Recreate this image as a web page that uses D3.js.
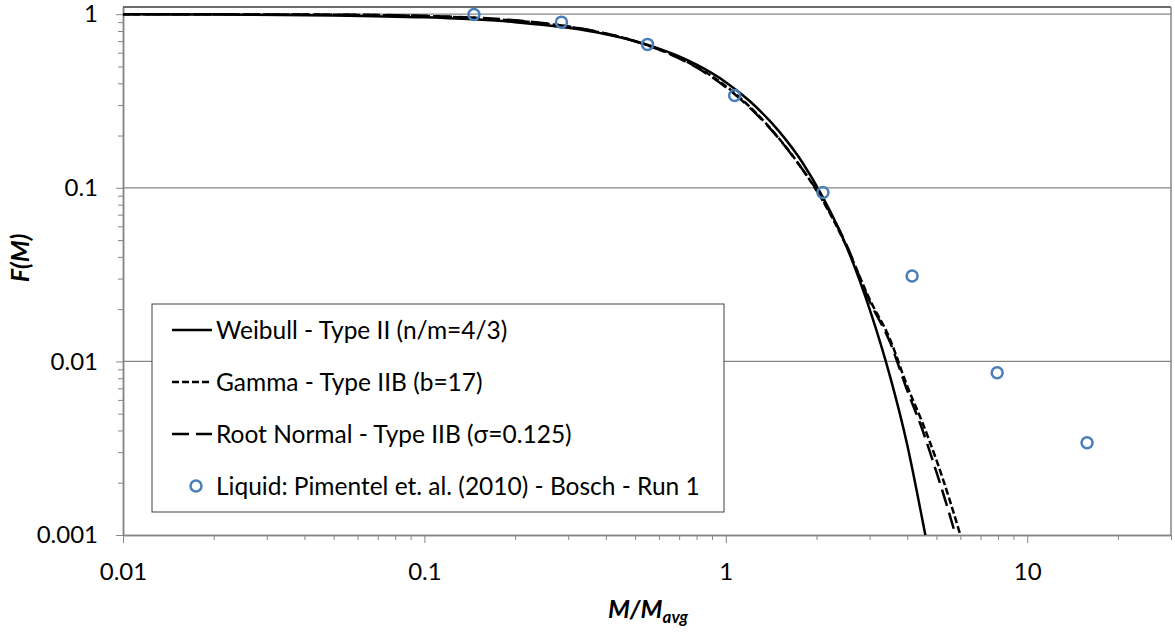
<!DOCTYPE html>
<html>
<head>
<meta charset="utf-8">
<script src="https://cdn.jsdelivr.net/npm/d3@7"></script>
<style>
  body { margin: 0; background: #fff; }
  text { font-family: Lato, "Open Sans", sans-serif; fill: #000; }
</style>
</head>
<body>
<div id="main"></div>
<script>
// values
const weibullM = [0.01, 0.02, 0.05, 0.1, 0.15, 0.2, 0.3, 0.4, 0.5, 0.6, 0.7, 0.8, 1.0, 1.2, 1.5, 1.8, 2.1, 2.5, 3.0, 3.5, 4.0, 4.5, 4.8];
const weibullF = [0.998, 0.995, 0.984, 0.959, 0.931, 0.900, 0.834, 0.766, 0.699, 0.633, 0.571, 0.512, 0.406, 0.316, 0.212, 0.139, 0.088, 0.047, 0.020, 0.0083, 0.0033, 0.0012, 0.00067];

const gammaM = [0.01, 0.02, 0.05, 0.1, 0.15, 0.2, 0.3, 0.4, 0.5, 0.6, 0.7, 0.8, 1.0, 1.2, 1.5, 1.8, 2.1, 2.5, 3.0, 3.5, 4.0, 4.5, 5.0, 5.5, 6.0, 6.3];
const gammaF = [0.999, 0.998, 0.993, 0.975, 0.950, 0.918, 0.848, 0.773, 0.700, 0.628, 0.560, 0.497, 0.385, 0.293, 0.193, 0.127, 0.084, 0.047, 0.0228, 0.0135, 0.0072, 0.0044, 0.0027, 0.00164, 0.0010, 0.00075];

const rootNormalM = [0.01, 0.02, 0.05, 0.1, 0.15, 0.2, 0.3, 0.4, 0.5, 0.6, 0.7, 0.8, 1.0, 1.2, 1.5, 1.8, 2.1, 2.5, 3.0, 3.5, 4.0, 4.5, 5.0, 5.5, 6.0];
const rootNormalF = [0.999, 0.998, 0.994, 0.978, 0.954, 0.922, 0.850, 0.774, 0.698, 0.625, 0.556, 0.493, 0.380, 0.290, 0.192, 0.127, 0.085, 0.048, 0.0222, 0.0130, 0.0068, 0.0040, 0.0023, 0.00135, 0.0008];

const liquidM = [0.146, 0.285, 0.55, 1.07, 2.1, 4.15, 7.95, 15.8];
const liquidF = [0.996, 0.90, 0.67, 0.34, 0.094, 0.031, 0.0086, 0.0034];

const xTicks = [0.01, 0.1, 1, 10];
const xTickLabels = ['0.01', '0.1', '1', '10'];
const yTicks = [0.001, 0.01, 0.1, 1];
const yTickLabels = ['0.001', '0.01', '0.1', '1'];

const legendLabels = [
    'Weibull - Type II (n/m=4/3)',
    'Gamma - Type IIB (b=17)',
    'Root Normal - Type IIB (\u03c3=0.125)',
    'Liquid: Pimentel et. al. (2010) - Bosch - Run 1'
];

const w = 1175, h = 634;
const plotLeft = 123, plotRight = 1171, plotTop = 7, plotBottom = 535;
const grey = '#868686';
const blue = '#4a7ebb';
const fontSize = 24;

const x = d3.scaleLog().domain([0.01, 30]).range([plotLeft, plotRight]);
const y = d3.scaleLog().domain([0.001, 1.1]).range([plotBottom, plotTop]);

const svg = d3.select('#main').append('svg')
    .attr('width', w)
    .attr('height', h);

svg.append('defs').append('clipPath').attr('id', 'plot')
    .append('rect')
    .attr('x', plotLeft).attr('y', plotTop)
    .attr('width', plotRight - plotLeft).attr('height', plotBottom - plotTop);

// horizontal gridlines
svg.append('g').selectAll('line')
    .data([0.01, 0.1, 1])
    .enter().append('line')
    .attr('x1', plotLeft).attr('x2', plotRight)
    .attr('y1', d => y(d)).attr('y2', d => y(d))
    .attr('stroke', grey).attr('stroke-width', 1.2);

// minor tick values (2..9 per decade)
const minorX = [], minorY = [];
[0.01, 0.1, 1, 10].forEach(dec => {
    for (let k = 2; k <= 9; k++) {
        const v = +(dec * k).toPrecision(3);
        if (v <= 30) minorX.push(v);
    }
});
[0.001, 0.01, 0.1].forEach(dec => {
    for (let k = 2; k <= 9; k++) minorY.push(+(dec * k).toPrecision(3));
});

const styleAxis = g => {
    g.select('.domain').attr('stroke', grey).attr('stroke-width', 1.5);
    g.selectAll('.tick line').attr('stroke', grey).attr('stroke-width', 1);
    g.selectAll('.tick text')
        .attr('font-size', fontSize)
        .attr('font-family', 'Lato, "Open Sans", sans-serif')
        .attr('fill', '#000');
};

// x axis
svg.append('g')
    .attr('transform', 'translate(0,' + plotBottom + ')')
    .call(d3.axisBottom(x).tickValues(minorX).tickSize(5).tickSizeOuter(0).tickFormat(''))
    .call(styleAxis);
svg.append('g')
    .attr('transform', 'translate(0,' + plotBottom + ')')
    .call(d3.axisBottom(x).tickValues(xTicks).tickSize(8).tickSizeOuter(0).tickPadding(20)
        .tickFormat((d, i) => xTickLabels[i]))
    .call(styleAxis);

// y axis
svg.append('g')
    .attr('transform', 'translate(' + plotLeft + ',0)')
    .call(d3.axisLeft(y).tickValues(minorY).tickSize(5).tickSizeOuter(0).tickFormat(''))
    .call(styleAxis);
svg.append('g')
    .attr('transform', 'translate(' + plotLeft + ',0)')
    .call(d3.axisLeft(y).tickValues(yTicks).tickSize(7).tickSizeOuter(0).tickPadding(18)
        .tickFormat((d, i) => yTickLabels[i]))
    .call(styleAxis);

// plot frame top and right
svg.append('line')
    .attr('x1', plotLeft).attr('x2', plotRight).attr('y1', plotTop).attr('y2', plotTop)
    .attr('stroke', '#3a3a3a').attr('stroke-width', 1.5);
svg.append('line')
    .attr('x1', plotRight).attr('x2', plotRight).attr('y1', plotTop).attr('y2', plotBottom)
    .attr('stroke', grey).attr('stroke-width', 1.5);

// curves
const line = d3.line()
    .x(d => x(d[0]))
    .y(d => y(d[1]))
    .curve(d3.curveMonotoneX);

const series = [
    { m: weibullM, f: weibullF, dash: null },
    { m: gammaM, f: gammaF, dash: '7,3' },
    { m: rootNormalM, f: rootNormalF, dash: '17,7' }
];

const curves = svg.append('g').attr('clip-path', 'url(#plot)');
series.forEach(s => {
    curves.append('path')
        .datum(s.m.map((m, i) => [m, s.f[i]]))
        .attr('d', line)
        .attr('fill', 'none')
        .attr('stroke', '#000')
        .attr('stroke-width', 2.5)
        .attr('stroke-dasharray', s.dash);
});

// measured points
svg.append('g').selectAll('circle')
    .data(liquidM.map((m, i) => [m, liquidF[i]]))
    .enter().append('circle')
    .attr('cx', d => x(d[0]))
    .attr('cy', d => y(d[1]))
    .attr('r', 5.5)
    .attr('fill', 'none')
    .attr('stroke', blue)
    .attr('stroke-width', 2.5);

// legend
const legend = svg.append('g');
legend.append('rect')
    .attr('x', 152).attr('y', 304)
    .attr('width', 572).attr('height', 208)
    .attr('fill', '#fff')
    .attr('stroke', '#404040').attr('stroke-width', 1);

const rowY = [330, 382, 434, 486];
legendLabels.forEach((lab, i) => {
    if (i < 3) {
        legend.append('line')
            .attr('x1', 172).attr('x2', 212)
            .attr('y1', rowY[i]).attr('y2', rowY[i])
            .attr('stroke', '#000').attr('stroke-width', 2.5)
            .attr('stroke-dasharray', series[i].dash);
    } else {
        legend.append('circle')
            .attr('cx', 196).attr('cy', rowY[i]).attr('r', 5.5)
            .attr('fill', 'none').attr('stroke', blue).attr('stroke-width', 2.5);
    }
    legend.append('text')
        .attr('x', 216).attr('y', rowY[i]).attr('dy', '0.36em')
        .attr('font-size', 24.5)
        .text(lab);
});

// axis titles
svg.append('text')
    .attr('transform', 'translate(20,258) rotate(-90)')
    .attr('text-anchor', 'middle')
    .attr('dy', '0.36em')
    .attr('font-size', 25)
    .attr('font-weight', 'bold')
    .attr('font-style', 'italic')
    .text('F(M)');

const xt = svg.append('text')
    .attr('x', 648).attr('y', 618)
    .attr('text-anchor', 'middle')
    .attr('font-size', 25)
    .attr('font-weight', 'bold')
    .attr('font-style', 'italic');
xt.append('tspan').text('M/M');
xt.append('tspan').attr('font-size', 17).attr('dy', 5).text('avg');
</script>
</body>
</html>
